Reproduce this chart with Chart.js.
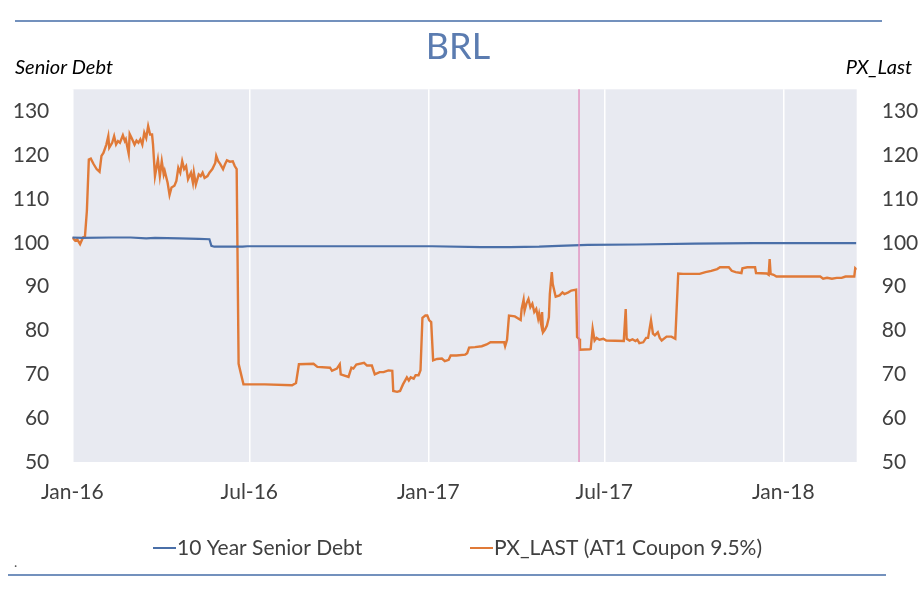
<!DOCTYPE html>
<html>
<head>
<meta charset="utf-8">
<title>BRL</title>
<script src="https://cdn.jsdelivr.net/npm/chart.js@4.4.1/dist/chart.umd.min.js"></script>
<style>
    body { margin: 0; background: #fff; }
    #wrap { width: 924px; height: 600px; }
</style>
</head>
<body>
<div id="wrap"><canvas id="brl" width="924" height="600"></canvas></div>
<script>
// x values are days counted from 1 Jan 2016
const tickDays = [0, 182, 366, 547, 731];
const tickLabels = ["Jan-16", "Jul-16", "Jan-17", "Jul-17", "Jan-18"];
const yTicks = [50, 60, 70, 80, 90, 100, 110, 120, 130];
const markerDay = 521;

const seniorDays = [0, 10, 40, 60, 76, 85, 110, 130, 141, 143, 146, 175, 180, 300, 370, 420, 450, 480, 500, 530, 580, 640, 700, 806];
const seniorValues = [101.2, 101.1, 101.2, 101.2, 101.0, 101.1, 101.0, 100.9, 100.8, 99.3, 99.1, 99.1, 99.2, 99.2, 99.2, 99.0, 99.0, 99.1, 99.3, 99.5, 99.6, 99.8, 99.9, 99.9];

const pxDays = [
    0, 3, 5, 8, 11, 13, 15, 17, 19, 22, 25, 28, 30, 32, 35, 37, 38, 41, 43, 45,
    47, 49, 52, 54, 55, 58, 59, 61, 64, 66, 68, 70, 72, 74, 76, 78, 80, 82, 83, 85,
    88, 90, 92, 94, 95, 98, 100, 102, 105, 107, 109, 111, 113, 115, 117, 119, 122, 124, 125, 127,
    130, 132, 134, 136, 139, 141, 144, 147, 148, 150, 152, 155, 157, 159, 162, 165, 167, 169, 171, 173,
    176, 198, 226, 230, 233, 248, 252, 265, 267, 272, 275, 276, 284, 287, 289, 292, 300, 303, 308, 311,
    316, 320, 325, 329, 330, 334, 337, 340, 344, 346, 348, 351, 353, 356, 358, 360, 363, 365, 367, 369,
    371, 375, 380, 383, 387, 389, 395, 404, 406, 408, 414, 421, 426, 430, 440, 444, 445, 447, 449, 455,
    461, 462, 464, 465, 467, 469, 471, 473, 475, 477, 479, 480, 482, 483, 484, 486, 488, 490, 491, 493,
    494, 497, 501, 504, 506, 510, 513, 518, 519, 521, 522, 532, 533, 535, 537, 539, 542, 546, 549, 567,
    569, 570, 573, 576, 579, 581, 583, 587, 590, 592, 595, 597, 599, 602, 604, 606, 611, 616, 620, 623,
    628, 639, 645, 651, 657, 663, 666, 675, 678, 682, 688, 689, 694, 702, 703, 714, 716, 717, 718, 721,
    724, 741, 769, 772, 776, 781, 786, 791, 795, 804, 805, 806.5
];
const pxValues = [
    101.2, 100.5, 100.8, 99.7, 101.2, 101.4, 107.3, 119.0, 119.2, 117.9, 116.8, 116.2, 119.8, 120.5, 122.4, 124.3, 121.7, 122.8, 124.3, 122.4,
    123.2, 122.8, 124.5, 123.2, 123.6, 120.3, 124.8, 123.9, 122.4, 123.3, 122.8, 123.6, 122.4, 125.1, 123.9, 126.6, 124.7, 124.7, 122.4, 115.2,
    119.0, 115.2, 118.6, 115.6, 116.4, 113.7, 110.9, 112.6, 113.0, 114.1, 117.1, 116.0, 118.6, 116.8, 117.5, 114.5, 116.0, 113.7, 116.0, 113.3,
    115.6, 115.2, 116.0, 114.8, 115.2, 116.0, 116.8, 118.2, 119.8, 118.6, 118.0, 116.8, 117.9, 118.8, 118.5, 118.6, 117.5, 116.8, 72.4, 70.5,
    67.7, 67.7, 67.5, 68.0, 72.3, 72.4, 71.7, 71.5, 70.8, 71.3, 72.3, 70.0, 69.4, 71.5, 71.3, 72.2, 72.6, 72.0, 72.0, 70.0,
    70.5, 70.5, 70.9, 70.8, 66.2, 66.0, 66.2, 67.7, 69.3, 68.6, 69.3, 69.0, 69.8, 69.8, 70.9, 82.9, 83.4, 83.4, 82.3, 81.9,
    73.2, 73.5, 73.6, 73.0, 73.3, 74.3, 74.3, 74.5, 74.8, 76.1, 76.2, 76.4, 76.8, 77.3, 77.3, 77.3, 76.4, 77.9, 83.4, 83.2,
    82.4, 84.9, 87.0, 84.5, 86.2, 87.2, 85.3, 86.1, 84.2, 84.9, 82.7, 83.8, 81.5, 84.2, 79.6, 80.2, 81.1, 83.0, 88.3, 93.3,
    90.6, 87.7, 88.0, 88.7, 88.3, 88.7, 89.1, 89.3, 78.5, 78.1, 75.6, 75.7, 75.8, 80.4, 77.7, 78.3, 77.9, 78.1, 77.7, 77.6,
    84.9, 78.1, 77.7, 78.0, 77.6, 77.9, 77.1, 77.3, 78.3, 78.3, 82.3, 79.3, 78.9, 79.6, 78.3, 77.7, 78.6, 78.6, 78.1, 93.0,
    92.9, 92.9, 92.9, 93.3, 93.6, 94.0, 94.4, 94.4, 93.6, 93.3, 93.1, 94.2, 94.4, 94.4, 93.1, 93.0, 92.7, 96.3, 92.9, 92.7,
    92.3, 92.3, 92.3, 91.8, 92.0, 91.8, 92.0, 92.0, 92.3, 92.3, 94.2, 93.9
];

const BLUE = "#4a6fa8";
const ORANGE = "#e07a38";
const FONT = "Lato";

function toPoints(days, values) {
    return days.map((d, i) => ({ x: d, y: values[i] }));
}

// background, marker line and all the loose text round the plot
const decorations = {
    id: "decorations",
    beforeDraw(chart) {
        const { ctx, chartArea: a } = chart;
        ctx.save();
        ctx.fillStyle = "#e8eaf1";
        ctx.fillRect(a.left, a.top, a.right - a.left, a.bottom - a.top);
        ctx.restore();
    },
    afterDatasetsDraw(chart) {
        const { ctx, chartArea: a } = chart;
        const x = chart.scales.x.getPixelForValue(markerDay);
        ctx.save();
        ctx.strokeStyle = "#e07fb5";
        ctx.lineWidth = 1.2;
        ctx.beginPath();
        ctx.moveTo(x, a.top);
        ctx.lineTo(x, a.bottom);
        ctx.stroke();
        ctx.restore();
    },
    afterDraw(chart) {
        const ctx = chart.ctx;
        ctx.save();

        // rules top and bottom
        ctx.strokeStyle = "#7391bd";
        ctx.lineWidth = 2;
        ctx.beginPath();
        ctx.moveTo(15, 21);
        ctx.lineTo(882, 21);
        ctx.moveTo(8, 575);
        ctx.lineTo(886, 575);
        ctx.stroke();

        // title
        ctx.fillStyle = "#5b7cb0";
        ctx.font = `36px ${FONT}`;
        ctx.textAlign = "center";
        ctx.textBaseline = "alphabetic";
        ctx.fillText("BRL", 458, 59);

        // axis names
        ctx.fillStyle = "#000";
        ctx.font = `italic 20px ${FONT}`;
        ctx.textAlign = "left";
        ctx.fillText("Senior Debt", 15, 74);
        ctx.textAlign = "right";
        ctx.fillText("PX_Last", 912, 74);

        // legend
        const legend = [
            { color: BLUE, text: "10 Year Senior Debt", x: 153 },
            { color: ORANGE, text: "PX_LAST (AT1 Coupon 9.5%)", x: 470 },
        ];
        ctx.font = `21px ${FONT}`;
        ctx.textAlign = "left";
        ctx.textBaseline = "middle";
        legend.forEach((item) => {
            ctx.strokeStyle = item.color;
            ctx.lineWidth = 2;
            ctx.beginPath();
            ctx.moveTo(item.x, 548);
            ctx.lineTo(item.x + 23, 548);
            ctx.stroke();
            ctx.fillStyle = "#404040";
            ctx.fillText(item.text, item.x + 24, 548);
        });

        ctx.fillStyle = "#555";
        ctx.font = `14px ${FONT}`;
        ctx.fillText(".", 14, 562);

        ctx.restore();
    },
};

const tickFont = { family: FONT, size: 21 };

new Chart(document.getElementById("brl"), {
    type: "line",
    data: {
        datasets: [
            {
                label: "10 Year Senior Debt",
                data: toPoints(seniorDays, seniorValues),
                borderColor: BLUE,
                borderWidth: 2.2,
                pointRadius: 0,
                yAxisID: "y",
            },
            {
                label: "PX_LAST (AT1 Coupon 9.5%)",
                data: toPoints(pxDays, pxValues),
                borderColor: ORANGE,
                borderWidth: 2.4,
                pointRadius: 0,
                yAxisID: "y2",
            },
        ],
    },
    options: {
        responsive: false,
        animation: false,
        layout: { padding: { top: 89.3, left: 0, right: 0, bottom: 0 } },
        plugins: {
            legend: { display: false },
            title: { display: false },
            tooltip: { enabled: false },
        },
        scales: {
            x: {
                type: "linear",
                min: 0,
                max: 806.5,
                afterBuildTicks: (scale) => {
                    scale.ticks = tickDays.map((v) => ({ value: v }));
                },
                afterFit: (scale) => {
                    scale.height = 138;
                },
                ticks: {
                    autoSkip: false,
                    maxRotation: 0,
                    padding: 18,
                    color: "#404040",
                    font: tickFont,
                    callback: (value) => tickLabels[tickDays.indexOf(value)],
                },
                grid: { color: "#ffffff", lineWidth: 1.5, drawTicks: false },
                border: { display: false },
            },
            y: {
                position: "left",
                min: 50,
                max: 135,
                afterBuildTicks: (scale) => {
                    scale.ticks = yTicks.map((v) => ({ value: v }));
                },
                afterFit: (scale) => {
                    scale.width = 72.3;
                },
                ticks: { padding: 15, color: "#404040", font: tickFont },
                grid: { display: false },
                border: { display: false },
            },
            y2: {
                position: "right",
                min: 50,
                max: 135,
                afterBuildTicks: (scale) => {
                    scale.ticks = yTicks.map((v) => ({ value: v }));
                },
                afterFit: (scale) => {
                    scale.width = 924 - 856.7;
                },
                ticks: { padding: 17, color: "#404040", font: tickFont },
                grid: { display: false },
                border: { display: false },
            },
        },
    },
    plugins: [decorations],
});
</script>
</body>
</html>
